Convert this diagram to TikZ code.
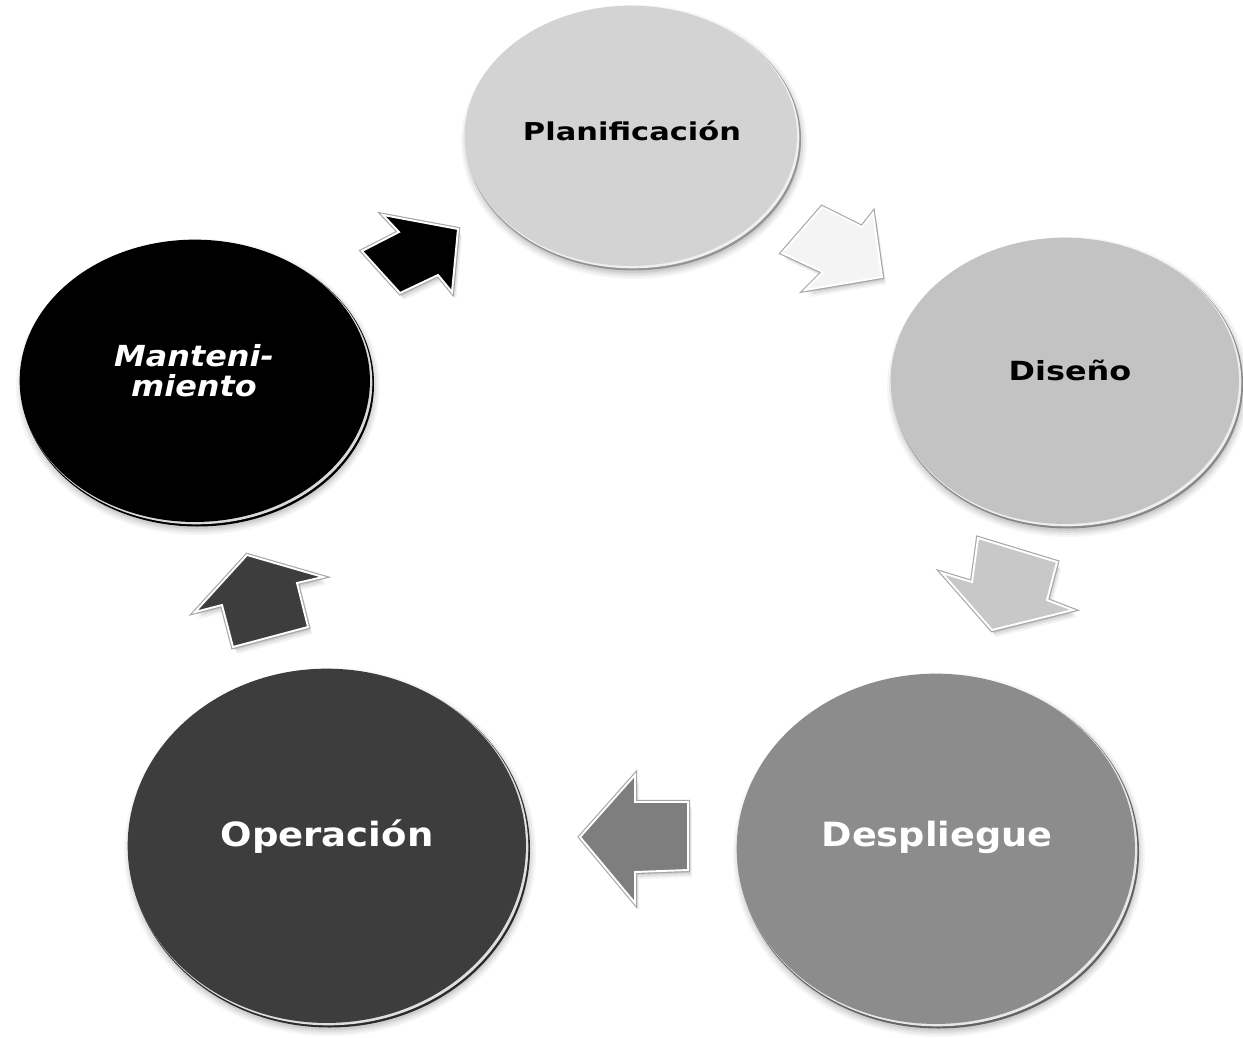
\documentclass[tikz,border=0pt]{standalone}
\usepackage{fontspec}
\setmainfont{DejaVu Sans}
\usepackage{graphicx}
\usetikzlibrary{shapes.geometric}
\definecolor{planC}{HTML}{D3D3D3}
\definecolor{disC}{HTML}{C3C3C3}
\definecolor{despC}{HTML}{8C8C8C}
\definecolor{operC}{HTML}{3D3D3D}
\definecolor{mantC}{HTML}{000000}
\definecolor{arWhite}{HTML}{F4F4F4}
\definecolor{arLight}{HTML}{C8C8C8}
\definecolor{arGray}{HTML}{7E7E7E}
\definecolor{arDark}{HTML}{3D3D3D}
\tikzset{
  discface/.style={ellipse, inner sep=0pt, outer sep=0pt, draw=none},
  disclabel/.style={anchor=base, inner sep=0pt, font=\bfseries},
}
% #1 name, #2 cx, #3 cy, #4 rx, #5 ry, #6 colour
\newcommand\mydisc[6]{%
  \foreach \dd/\oo in {8/0.035,6/0.045,4/0.055,2/0.07}{%
    \fill[black,opacity=\oo] (#2+2,#3+5) ellipse [x radius=#4+\dd-4, y radius=#5+\dd-4];}
  \fill[#6!70!black] (#2+1.5,#3+2) ellipse [x radius=#4-1.5, y radius=#5-1.5];
  \fill[white,opacity=0.85] (#2+0.5,#3+0.5) ellipse [x radius=#4-2.2, y radius=#5-2.2];
  \node[discface, fill=#6, minimum width={(#4-2.8)*0.04cm}, minimum height={(#5-2.8)*0.04cm}] (#1) at (#2-1.2,#3-1.2) {};
}
% #1 colour, #2 polygon
\newcommand\blockarrow[2]{%
  \foreach \dd/\oo in {7/0.05,5/0.07,3/0.09}{%
    \fill[black,opacity=\oo,shift={(\dd*0.6,\dd)}] #2;}
  \draw[black!35,line width=2.4pt,line join=miter] #2;
  \filldraw[fill=#1,draw=white,line width=1.1pt,line join=miter] #2;
}
\begin{document}
\begin{tikzpicture}[x=0.02cm,y=-0.02cm]
\fill[white] (0,0) rectangle (1243,1037);
\useasboundingbox (0,0) rectangle (1243,1037);

% discs
\mydisc{plan}{632}{137}{169}{133}{planC}
\mydisc{dis}{1066}{382}{177}{146}{disC}
\mydisc{desp}{937}{850}{202}{178}{despC}
\mydisc{oper}{328}{847}{202}{180}{operC}
\mydisc{mant}{196}{382}{178}{144}{mantC}

% labels
\node[disclabel, text=black, font=\fontsize{14}{16}\selectfont\bfseries] (planT) at (632,141) {\scalebox{1.24}[1]{Planificación}};
\node[disclabel, text=black, font=\fontsize{15}{17}\selectfont\bfseries] (disT) at (1070,380) {\scalebox{1.21}[1]{Diseño}};
\node[disclabel, text=white, font=\fontsize{19}{21}\selectfont\bfseries] (despT) at (937,846) {\scalebox{1.10}[1]{Despliegue}};
\node[disclabel, text=white, font=\fontsize{19}{21}\selectfont\bfseries] (operT) at (327,846) {\scalebox{1.11}[1]{Operación}};
\node[anchor=center, inner sep=0pt, align=center, text=white, font=\fontsize{16.5}{17}\selectfont\bfseries\itshape] (mantT) at (194,371) {\scalebox{1.10}[1]{Manteni-}\\\scalebox{1.10}[1]{miento}};

% block arrows
\blockarrow{black}{(458,229) -- (383,215) -- (399,232) -- (362,251) -- (400,293) -- (438,275) -- (452,292) -- cycle}
\blockarrow{arWhite}{(822,207) -- (862,227) -- (873,213) -- (882,277) -- (805,290) -- (823,272) -- (782,253) -- cycle}
\blockarrow{arLight}{(978,538) -- (1057,562) -- (1047,600) -- (1073,610) -- (992,630) -- (942,573) -- (972,582) -- cycle}
\blockarrow{arGray}{(580,837) -- (635,775) -- (635,802) -- (688,802) -- (688,870) -- (635,872) -- (635,903) -- cycle}
\blockarrow{arDark}{(247,555) -- (323,577) -- (297,583) -- (308,627) -- (233,647) -- (222,605) -- (195,612) -- cycle}
\end{tikzpicture}
\end{document}
